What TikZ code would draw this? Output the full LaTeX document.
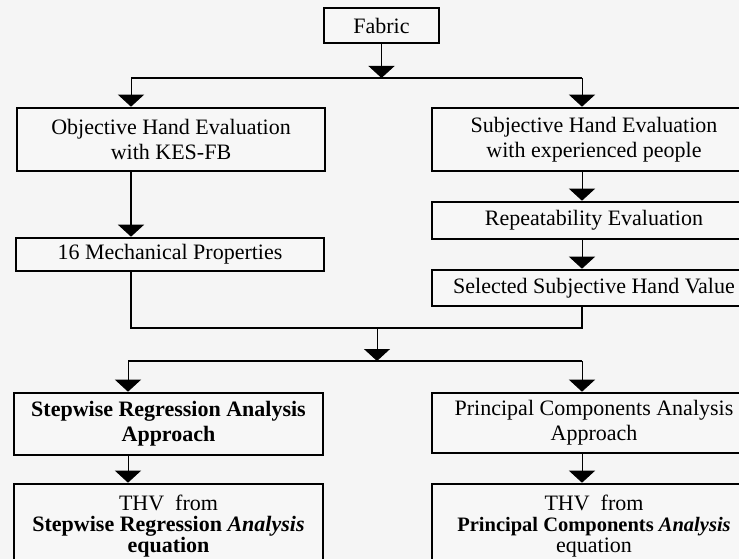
\documentclass[tikz,border=0pt]{standalone}
\usepackage{fontspec}
\setmainfont{Liberation Serif}
\usetikzlibrary{arrows.meta}
\tikzset{
  x=1pt,y=-1pt,
  box/.style={draw=black,line width=2.6pt,fill=white!97!black,align=center,inner sep=0pt,
    font=\fontsize{22}{25}\selectfont},
  conn/.style={line width=1pt,-{Triangle[width=26pt,length=12pt]}},
  bar/.style={line width=2.4pt},
}
\begin{document}
\begin{tikzpicture}
\fill[black!4] (0,0) rectangle (739,559);
\useasboundingbox (0,0) rectangle (739,559);
\clip (0,0) rectangle (739,559);

\node[box,minimum width=115pt,minimum height=35pt] (fabric) at (381.5,25.5) {Fabric};
\node[box,minimum width=308pt,minimum height=63pt] (obj) at (171,139.5) {Objective Hand Evaluation\\with KES-FB};
\node[box,minimum width=324pt,minimum height=63pt] (subj) at (594,139.5) {Subjective Hand Evaluation\\with experienced people};
\node[box,minimum width=324pt,minimum height=37pt] (rep) at (594,220.5) {Repeatability Evaluation};
\node[box,minimum width=308pt,minimum height=33pt] (mech) at (170,254.5) {16 Mechanical Properties};
\node[box,minimum width=324pt,minimum height=36pt] (sel) at (594,288) {Selected Subjective Hand Value};
\node[box,minimum width=309pt,minimum height=62pt,font=\fontsize{22}{25}\selectfont\bfseries] (step) at (168.5,424) {Stepwise Regression Analysis\\Approach};
\node[box,minimum width=324pt,minimum height=60pt] (pca) at (594,423) {Principal Components Analysis\\Approach};
\node[box,minimum width=309pt,minimum height=84pt,font=\fontsize{22}{21}\selectfont] (thva) at (168.5,526)
  {THV\ \ from\\\textbf{Stepwise Regression \textit{Analysis}}\\\textbf{equation}};
\node[box,minimum width=324pt,minimum height=84pt,font=\fontsize{22}{21}\selectfont] (thvb) at (594,526)
  {THV\ \ from\\{\fontsize{20.5}{21}\selectfont\bfseries Principal Components \textit{Analysis}}\\equation};

\coordinate (lx) at (131,0);
\coordinate (rx) at (582,0);
\coordinate (b1) at (381.5,78);
\coordinate (b1l) at (131,78);
\coordinate (b1r) at (582,78);
\coordinate (j1l) at (131,328);
\coordinate (j1m) at (377,328);
\coordinate (j1r) at (582,328);
\coordinate (d1m) at (377,361);
\coordinate (d1l) at (128,361);
\coordinate (d1r) at (582,361);

\draw[conn] (fabric.south) -- (b1);
\draw[bar] (b1l) -- (b1r);
\draw[conn] (b1l) -- (b1l |- obj.north);
\draw[conn] (b1r) -- (b1r |- subj.north);
\draw[conn,line width=1.4pt] (obj.south -| lx) -- (mech.north -| lx);
\draw[conn] (subj.south -| rx) -- (rep.north -| rx);
\draw[conn] (rep.south -| rx) -- (sel.north -| rx);
\draw[bar] (mech.south -| lx) -- (j1l) -- (j1r) -- (sel.south -| rx);
\draw[conn] (j1m) -- (d1m);
\draw[bar] (d1l) -- (d1r);
\draw[conn] (d1l) -- (d1l |- step.north);
\draw[conn] (d1r) -- (d1r |- pca.north);
\draw[conn] (step.south -| d1l) -- (thva.north -| d1l);
\draw[conn] (pca.south -| d1r) -- (thvb.north -| d1r);
\end{tikzpicture}
\end{document}
